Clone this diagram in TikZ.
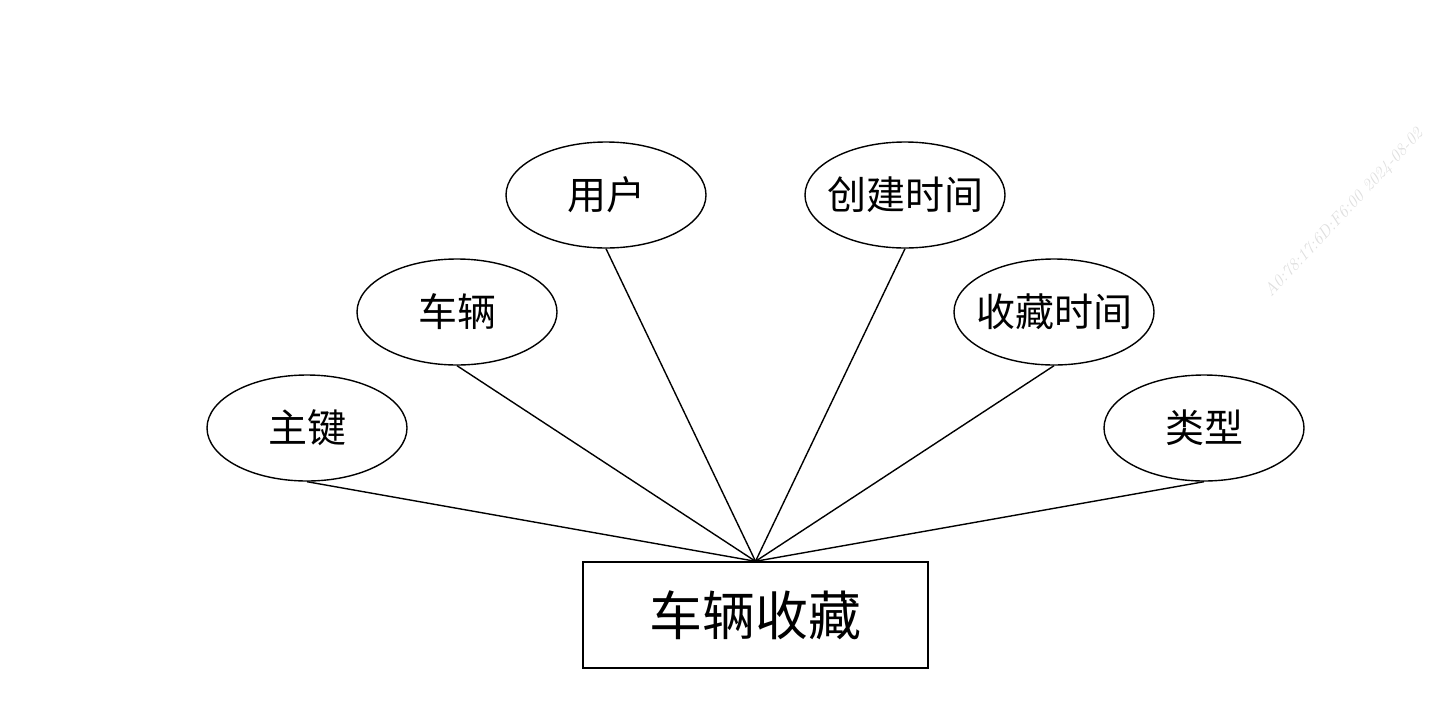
\documentclass[tikz,border=0pt]{standalone}
\usepackage{fontspec}
\newfontfamily\cjk{Noto Sans CJK SC}
\usetikzlibrary{shapes.geometric}

\begin{document}
\begin{tikzpicture}[x=1pt,y=-1pt,line width=1.4pt,
    attr/.style={draw, ellipse, minimum width=200pt, minimum height=106pt, inner xsep=-12pt, inner ysep=0pt, font=\cjk\fontsize{39}{39}\selectfont},
    entity/.style={draw, rectangle, minimum width=345pt, minimum height=106pt, inner sep=0pt, font=\cjk\fontsize{53}{53}\selectfont}]
                % Sayfa sınırları
                \useasboundingbox (0,0) rectangle (1440,718);

                % Varlık kutusu
                \node[entity] (fav) at (755.5,615) {车辆收藏};

                % Öznitelikler (elipsler)
                \node[attr] (pk) at (307,428) {主键};
                \node[attr] (car) at (457,312) {车辆};
                \node[attr] (user) at (606,195) {用户};
                \node[attr] (ctime) at (905,195) {创建时间};
                \node[attr] (ftime) at (1054,312) {收藏时间};
                \node[attr] (kind) at (1204,428) {类型};

                % Bağlantılar (hepsi kutunun üst ortasında birleşir)
                \draw (pk.south) -- (fav.north);
                \draw (car.south) -- (fav.north);
                \draw (user.south) -- (fav.north);
                \draw (ctime.south) -- (fav.north);
                \draw (ftime.south) -- (fav.north);
                \draw (kind.south) -- (fav.north);

                % Filigran
                \node[rotate=47, text=gray!25, font=\itshape\fontsize{17}{17}\selectfont] (mark) at (1344,213) {A0:78:17:6D:F6:00 2024-08-02};
            \end{tikzpicture}
\end{document}
